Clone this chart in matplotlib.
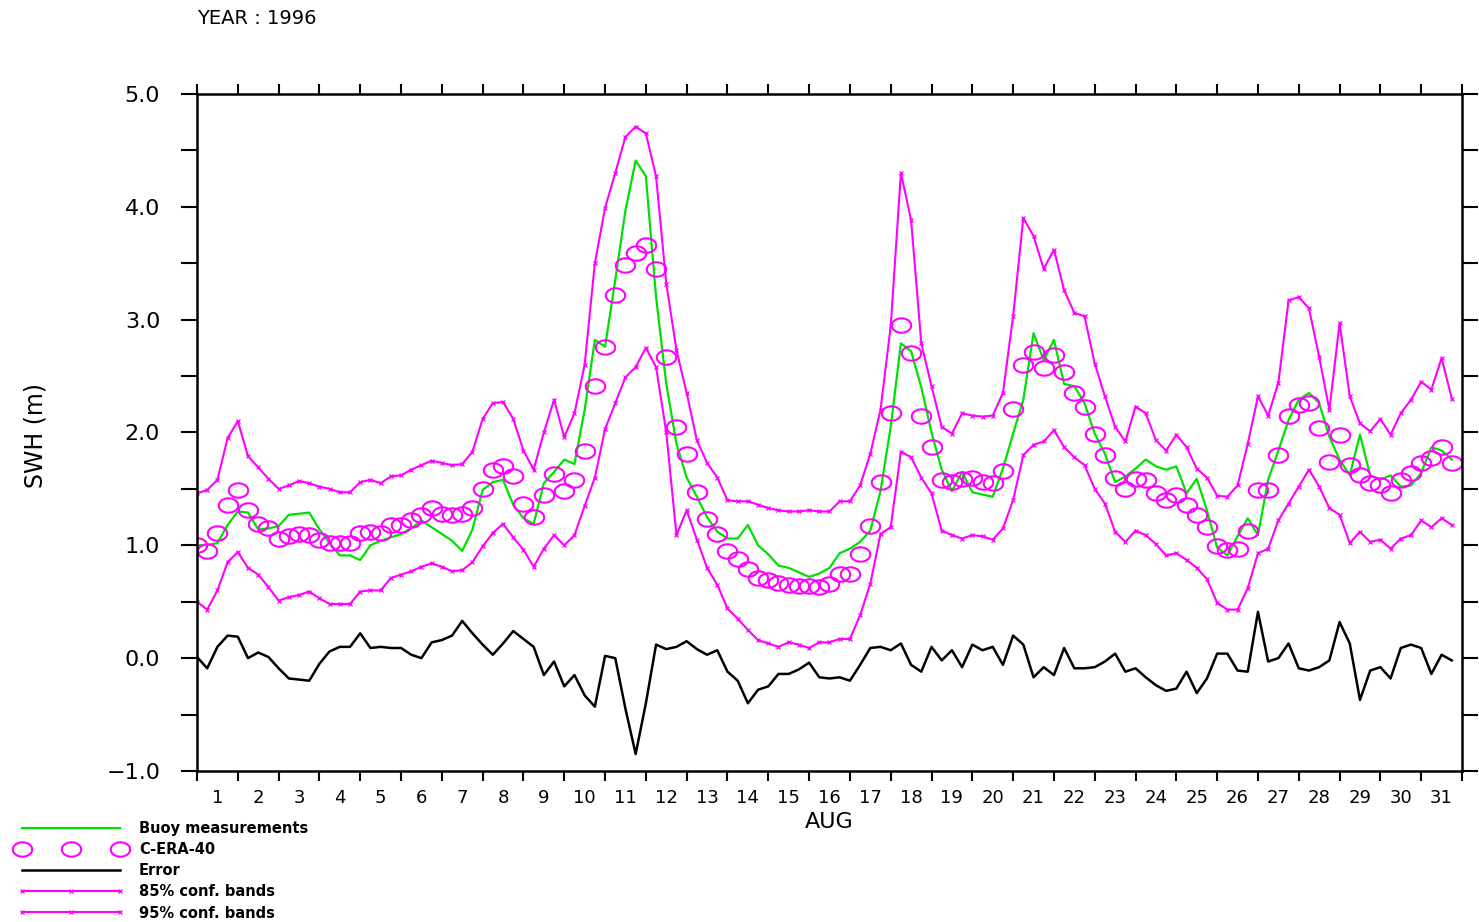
import numpy as np
import matplotlib
matplotlib.use("Agg")
import matplotlib.pyplot as plt

# 6-hourly values, 1-31 August 1996 (4 per day)
hours = np.arange(0, 31 * 24, 6)

buoy = [
    1.00, 1.00, 1.02, 1.18, 1.30, 1.29, 1.14, 1.15,
    1.17, 1.27, 1.28, 1.29, 1.14, 1.02, 0.91, 0.91,
    0.87, 1.00, 1.04, 1.07, 1.10, 1.15, 1.22, 1.16,
    1.10, 1.04, 0.95, 1.14, 1.49, 1.56, 1.58, 1.36,
    1.24, 1.19, 1.55, 1.65, 1.76, 1.72, 2.20, 2.82,
    2.76, 3.35, 3.97, 4.41, 4.27, 3.20, 2.43, 1.90,
    1.60, 1.43, 1.25, 1.12, 1.06, 1.06, 1.18, 1.00,
    0.92, 0.82, 0.80, 0.76, 0.72, 0.75, 0.80, 0.93,
    0.97, 1.03, 1.13, 1.48, 2.05, 2.79, 2.72, 2.40,
    2.00, 1.67, 1.48, 1.65, 1.47, 1.45, 1.43, 1.68,
    1.99, 2.29, 2.88, 2.64, 2.82, 2.43, 2.41, 2.26,
    1.99, 1.81, 1.56, 1.61, 1.68, 1.76, 1.70, 1.67,
    1.70, 1.46, 1.59, 1.31, 0.98, 0.91, 1.08, 1.24,
    1.09, 1.58, 1.84, 2.11, 2.29, 2.35, 2.26, 1.96,
    1.76, 1.62, 1.98, 1.62, 1.58, 1.62, 1.52, 1.53,
    1.64, 1.87, 1.84, 1.76,
]

cera = [
    1.00, 0.95, 1.11, 1.36, 1.49, 1.31, 1.19, 1.15,
    1.06, 1.08, 1.10, 1.09, 1.05, 1.02, 1.02, 1.02,
    1.11, 1.12, 1.11, 1.18, 1.18, 1.22, 1.27, 1.33,
    1.28, 1.27, 1.28, 1.33, 1.50, 1.67, 1.70, 1.61,
    1.37, 1.25, 1.45, 1.63, 1.48, 1.58, 1.84, 2.41,
    2.76, 3.22, 3.48, 3.59, 3.66, 3.45, 2.67, 2.05,
    1.81, 1.47, 1.23, 1.10, 0.95, 0.88, 0.79, 0.71,
    0.69, 0.67, 0.65, 0.64, 0.64, 0.63, 0.66, 0.75,
    0.75, 0.92, 1.17, 1.56, 2.17, 2.95, 2.70, 2.15,
    1.87, 1.58, 1.56, 1.59, 1.60, 1.56, 1.55, 1.66,
    2.21, 2.60, 2.71, 2.57, 2.69, 2.54, 2.35, 2.23,
    1.99, 1.80, 1.60, 1.50, 1.59, 1.58, 1.46, 1.40,
    1.45, 1.36, 1.27, 1.16, 0.99, 0.96, 0.97, 1.13,
    1.49, 1.49, 1.80, 2.15, 2.24, 2.26, 2.04, 1.74,
    1.98, 1.71, 1.62, 1.55, 1.53, 1.46, 1.58, 1.64,
    1.73, 1.77, 1.87, 1.73,
]

error = [
    0.01, -0.09, 0.10, 0.20, 0.19, 0.00, 0.05, 0.01,
    -0.09, -0.18, -0.19, -0.20, -0.05, 0.06, 0.10, 0.10,
    0.22, 0.09, 0.10, 0.09, 0.09, 0.03, 0.00, 0.14,
    0.16, 0.20, 0.33, 0.22, 0.12, 0.03, 0.13, 0.24,
    0.17, 0.10, -0.15, -0.03, -0.25, -0.15, -0.33, -0.43,
    0.02, 0.00, -0.45, -0.85, -0.40, 0.12, 0.08, 0.10,
    0.15, 0.08, 0.03, 0.07, -0.12, -0.20, -0.40, -0.28,
    -0.25, -0.14, -0.14, -0.10, -0.04, -0.17, -0.18, -0.17,
    -0.20, -0.06, 0.09, 0.10, 0.07, 0.13, -0.06, -0.12,
    0.10, -0.02, 0.07, -0.08, 0.12, 0.07, 0.10, -0.06,
    0.20, 0.12, -0.17, -0.08, -0.15, 0.09, -0.09, -0.09,
    -0.08, -0.03, 0.04, -0.12, -0.09, -0.17, -0.24, -0.29,
    -0.27, -0.12, -0.31, -0.18, 0.04, 0.04, -0.11, -0.12,
    0.41, -0.03, 0.00, 0.13, -0.09, -0.11, -0.08, -0.02,
    0.32, 0.13, -0.37, -0.11, -0.08, -0.18, 0.09, 0.12,
    0.09, -0.14, 0.03, -0.02,
]

band_upper = [
    1.46, 1.49, 1.58, 1.95, 2.10, 1.79, 1.69, 1.59,
    1.50, 1.53, 1.57, 1.55, 1.52, 1.50, 1.47, 1.47,
    1.56, 1.58, 1.55, 1.61, 1.62, 1.67, 1.71, 1.75,
    1.73, 1.71, 1.72, 1.83, 2.12, 2.26, 2.27, 2.12,
    1.84, 1.67, 2.00, 2.29, 1.96, 2.17, 2.60, 3.50,
    3.99, 4.30, 4.62, 4.71, 4.65, 4.27, 3.32, 2.73,
    2.35, 1.93, 1.73, 1.60, 1.40, 1.39, 1.39, 1.36,
    1.33, 1.31, 1.30, 1.30, 1.31, 1.30, 1.30, 1.39,
    1.39, 1.53, 1.81, 2.20, 2.94, 4.30, 3.88, 2.79,
    2.41, 2.05, 1.99, 2.17, 2.15, 2.14, 2.15, 2.35,
    3.03, 3.90, 3.74, 3.45, 3.62, 3.26, 3.06, 3.03,
    2.61, 2.32, 2.05, 1.92, 2.23, 2.17, 1.93, 1.84,
    1.98, 1.87, 1.68, 1.60, 1.44, 1.43, 1.53, 1.90,
    2.32, 2.15, 2.44, 3.17, 3.20, 3.10, 2.67, 2.20,
    2.97, 2.32, 2.08, 2.01, 2.12, 1.98, 2.17, 2.29,
    2.45, 2.38, 2.66, 2.30,
]

band_lower = [
    0.50, 0.43, 0.60, 0.85, 0.94, 0.80, 0.74, 0.63,
    0.51, 0.54, 0.56, 0.59, 0.53, 0.48, 0.48, 0.48,
    0.59, 0.60, 0.60, 0.71, 0.74, 0.77, 0.81, 0.84,
    0.81, 0.77, 0.78, 0.85, 0.99, 1.11, 1.19, 1.07,
    0.96, 0.81, 0.97, 1.09, 1.00, 1.09, 1.35, 1.60,
    2.03, 2.26, 2.49, 2.58, 2.75, 2.58, 2.00, 1.09,
    1.31, 1.05, 0.80, 0.65, 0.44, 0.35, 0.25, 0.16,
    0.13, 0.10, 0.14, 0.12, 0.09, 0.14, 0.14, 0.17,
    0.17, 0.38, 0.66, 1.10, 1.16, 1.83, 1.78, 1.60,
    1.46, 1.13, 1.09, 1.06, 1.09, 1.08, 1.05, 1.15,
    1.40, 1.80, 1.89, 1.92, 2.02, 1.87, 1.78, 1.71,
    1.50, 1.37, 1.12, 1.03, 1.13, 1.09, 1.01, 0.91,
    0.93, 0.87, 0.80, 0.70, 0.49, 0.43, 0.43, 0.62,
    0.93, 0.97, 1.22, 1.37, 1.52, 1.67, 1.52, 1.33,
    1.27, 1.02, 1.12, 1.03, 1.05, 0.97, 1.06, 1.09,
    1.22, 1.16, 1.24, 1.18,
]

day_labels = [str(d) for d in range(1, 32)]

MAGENTA = "#ff00ff"
GREEN = "#00e000"

fig = plt.figure(figsize=(14.79, 9.22), dpi=100)
ax = fig.add_axes([0.1332, 0.1638, 0.8553, 0.7343])

days = hours / 24.0

# conf. bands
l85, = ax.plot(days, band_lower, color=MAGENTA, lw=1.5, marker="x", ms=3, mew=0.9,
               label="85% conf. bands")
l95, = ax.plot(days, band_upper, color=MAGENTA, lw=1.5, marker="x", ms=3, mew=0.9,
               label="95% conf. bands")
lb, = ax.plot(days, buoy, color=GREEN, lw=1.6, label="Buoy measurements")
lerr, = ax.plot(days, error, color="black", lw=1.8, label="Error")

# elliptic hollow marker for C-ERA-40
th = np.linspace(0, 2 * np.pi, 40)
ell = list(zip(1.35 * np.cos(th), np.sin(th)))
lc, = ax.plot(days, cera, ls="none", marker=ell, ms=14, mfc="none",
              mec=MAGENTA, mew=1.5, label="C-ERA-40")

ax.set_xlim(0, 31)
ax.set_ylim(-1, 5)

# x: ticks on day boundaries, labels on day centres
ax.set_xticks(np.arange(0, 32))
ax.set_xticklabels([])
ax.set_xticks(np.arange(0.5, 31), minor=True)
ax.set_xticklabels(day_labels, minor=True, fontsize=13)
ax.tick_params(axis="x", which="major", direction="out", length=7, width=1.5,
               top=True, bottom=True)
ax.tick_params(axis="x", which="minor", length=0, pad=13)

# y
ax.set_yticks(np.arange(-1, 5.1, 1.0))
ax.set_yticklabels(["\u22121.0", "0.0", "1.0", "2.0", "3.0", "4.0", "5.0"], fontsize=16)
ax.set_yticks(np.arange(-0.5, 5, 1.0), minor=True)
ax.tick_params(axis="y", which="both", direction="out", length=11.5, width=1.5,
               left=True, right=True, pad=15)

for s in ax.spines.values():
    s.set_linewidth(1.8)

fig.text(35 / 1479, 1 - 435 / 922, "SWH (m)", rotation=90, ha="center",
         va="center", fontsize=17)
fig.text(829 / 1479, 1 - 822 / 922, "AUG", ha="center", va="center", fontsize=16)
fig.text(197 / 1479, 1 - 19 / 922, "YEAR : 1996", ha="left", va="center", fontsize=14)

fig.legend(handles=[lb, lc, lerr, l85, l95], loc="upper left",
           bbox_to_anchor=(18 / 1479, 1 - 821 / 922), frameon=False,
           numpoints=3, handlelength=7.3, handletextpad=1.0, borderpad=0,
           borderaxespad=0, labelspacing=0.42,
           prop={"size": 10.5, "weight": "bold"})

fig.savefig("out.png", dpi=100)
